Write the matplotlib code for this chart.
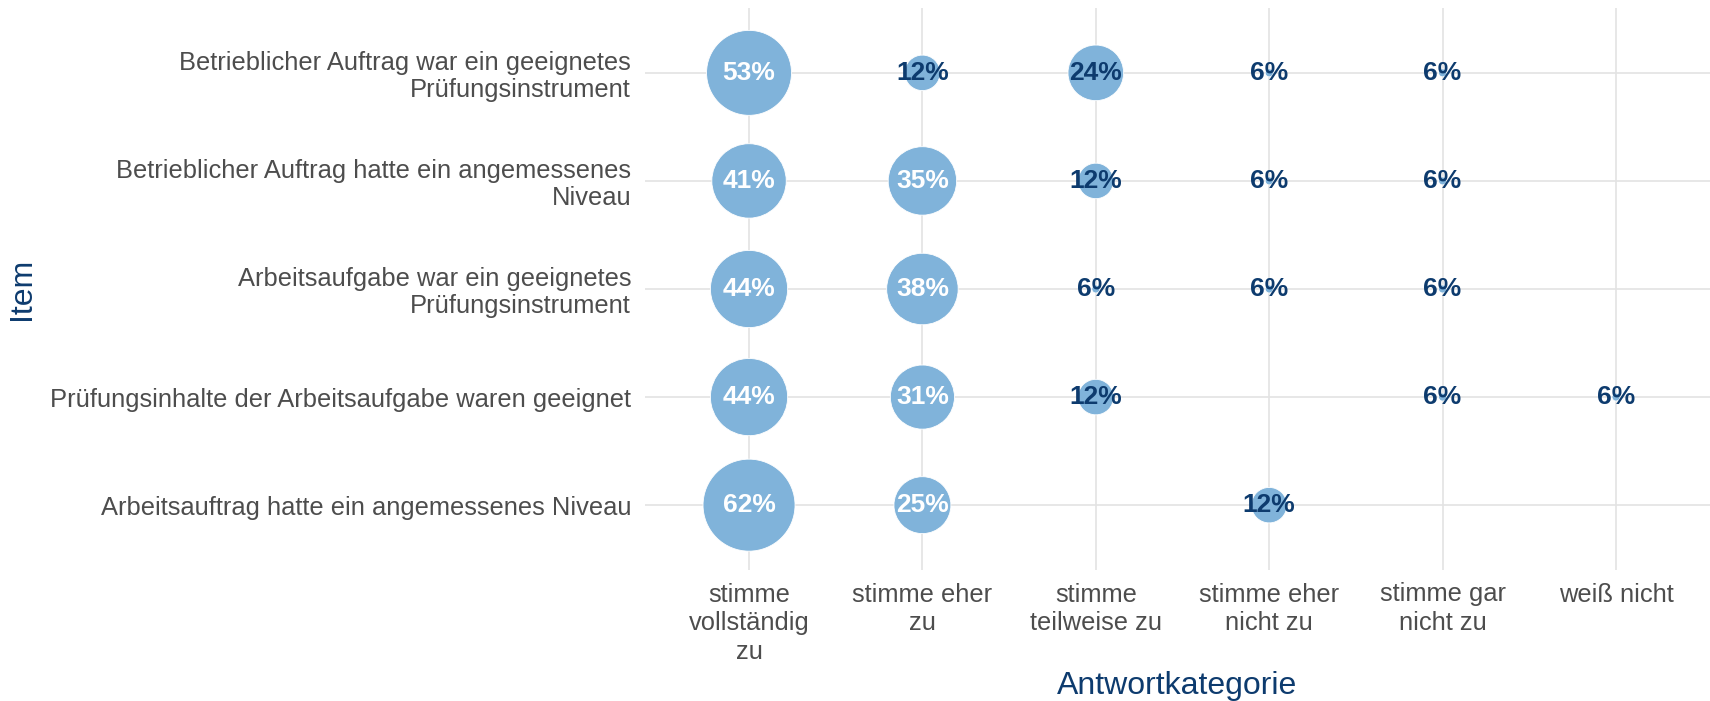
import numpy as np
import matplotlib.pyplot as plt

plt.rcParams['font.family'] = ['Liberation Sans', 'DejaVu Sans']

categories = ["stimme\nvollständig\nzu", "stimme eher\nzu", "stimme\nteilweise zu",
              "stimme eher\nnicht zu", "stimme gar\nnicht zu", "weiß nicht"]
items = ["Betrieblicher Auftrag war ein geeignetes\nPrüfungsinstrument",
         "Betrieblicher Auftrag hatte ein angemessenes\nNiveau",
         "Arbeitsaufgabe war ein geeignetes\nPrüfungsinstrument",
         "Prüfungsinhalte der Arbeitsaufgabe waren geeignet",
         "Arbeitsauftrag hatte ein angemessenes Niveau"]
# percent per item (rows) and answer category (columns), None = no answers
values = [
    [53, 12, 24, 6, 6, None],
    [41, 35, 12, 6, 6, None],
    [44, 38, 6, 6, 6, None],
    [44, 31, 12, None, 6, 6],
    [62, 25, None, 12, None, None],
]

bubble_col = "#80B3DA"
navy = "#0D3B6E"
grey = "#4D4D4D"

fig = plt.figure(figsize=(17.1, 7.01), dpi=100)
ax = fig.add_axes([645/1710, 1 - 570/701, (1720 - 645)/1710, 562/701])

xs, ys, vs = [], [], []
for i, row in enumerate(values):
    for j, v in enumerate(row):
        if v is None:
            continue
        xs.append(j)
        ys.append(len(items) - 1 - i)
        vs.append(v)
xs = np.array(xs)
ys = np.array(ys)
vs = np.array(vs, dtype=float)

# area scale like ggplot: radius grows with sqrt of rescaled value
vmin, vmax = vs.min(), vs.max()
r_px = 4 + 42 * np.sqrt((vs - vmin) / (vmax - vmin))
sizes = (2 * r_px * 72 / 100) ** 2

ax.scatter(xs, ys, s=sizes, color=bubble_col, edgecolors="white", linewidths=0.6, zorder=3)
for x, y, v in zip(xs, ys, vs):
    ax.text(x, y, f"{int(v)}%", ha="center", va="center", fontsize=19, fontweight="bold",
            color="white" if v >= 25 else navy, zorder=4)

ax.set_xlim(-0.6, len(categories) - 0.4)
ax.set_ylim(-0.6, len(items) - 0.4)
ax.set_xticks(range(len(categories)))
ax.set_xticklabels(categories, fontsize=18.4, color=grey, linespacing=1.25, va="top")
ax.set_yticks(range(len(items)))
ax.set_yticklabels(items[::-1], fontsize=18.4, color=grey, linespacing=1.12)
ax.tick_params(axis="both", length=0)
ax.tick_params(axis="x", pad=9)
ax.tick_params(axis="y", pad=10)
ax.grid(True, color="#E3E3E3", linewidth=1.2)
ax.set_axisbelow(True)
for sp in ax.spines.values():
    sp.set_visible(False)

fig.text(22/1710, 1 - 289/701, "Item", rotation=90, ha="center", va="center", fontsize=23, color=navy)
fig.text(1177/1710, 1 - 686/701, "Antwortkategorie", ha="center", va="center", fontsize=23, color=navy)

fig.savefig("out.png", dpi=100)
